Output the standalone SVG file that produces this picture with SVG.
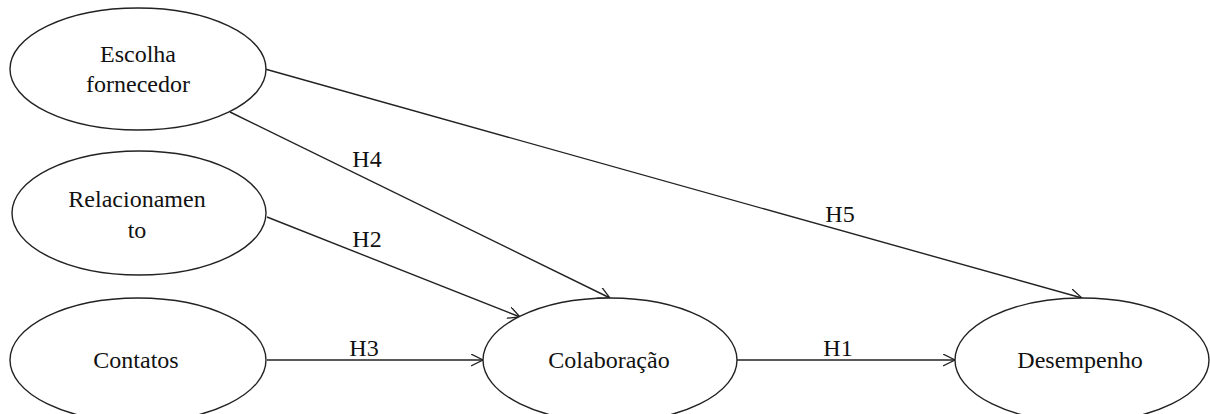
<svg xmlns="http://www.w3.org/2000/svg" width="1210" height="414" viewBox="0 0 1210 414">
<defs>
<marker id="arr" markerWidth="14" markerHeight="14" refX="12" refY="6" orient="auto" markerUnits="userSpaceOnUse">
<path d="M0,0 L12,6 L0,12" fill="none" stroke="#222" stroke-width="1.3"/>
</marker>
<style>
.node ellipse{fill:#fff;stroke:#222;stroke-width:1.4}
.t{font-family:"Liberation Serif","Times New Roman",serif;font-size:24px;fill:#111;text-anchor:middle}
.c line{stroke:#222;stroke-width:1.4;marker-end:url(#arr)}
</style>
</defs>
<rect width="1210" height="414" fill="#fff"/>
<g id="connectors" class="c">
<line x1="265" y1="69" x2="1082" y2="298"/>
<line x1="230" y1="112" x2="610" y2="298"/>
<line x1="267" y1="217" x2="520" y2="317"/>
<line x1="267" y1="360" x2="483" y2="360"/>
<line x1="737" y1="360" x2="955" y2="360"/>
</g>
<g id="labels">
<text class="t" x="840" y="222">H5</text>
<text class="t" x="367" y="167">H4</text>
<text class="t" x="367" y="247">H2</text>
<text class="t" x="364" y="356">H3</text>
<text class="t" x="838" y="356">H1</text>
</g>
<g id="escolha" class="node">
<ellipse cx="138" cy="69" rx="128" ry="61"/>
<text class="t" x="138" y="62">Escolha</text>
<text class="t" x="138" y="92">fornecedor</text>
</g>
<g id="relacionamento" class="node">
<ellipse cx="139" cy="213" rx="127" ry="62"/>
<text class="t" x="137" y="207">Relacionamen</text>
<text class="t" x="137" y="238">to</text>
</g>
<g id="contatos" class="node">
<ellipse cx="138" cy="360" rx="128" ry="62"/>
<text class="t" x="136" y="368">Contatos</text>
</g>
<g id="colaboracao" class="node">
<ellipse cx="610" cy="360" rx="127" ry="62"/>
<text class="t" x="609" y="368">Colaboração</text>
</g>
<g id="desempenho" class="node">
<ellipse cx="1082" cy="360" rx="127" ry="62"/>
<text class="t" x="1080" y="368">Desempenho</text>
</g>
</svg>
